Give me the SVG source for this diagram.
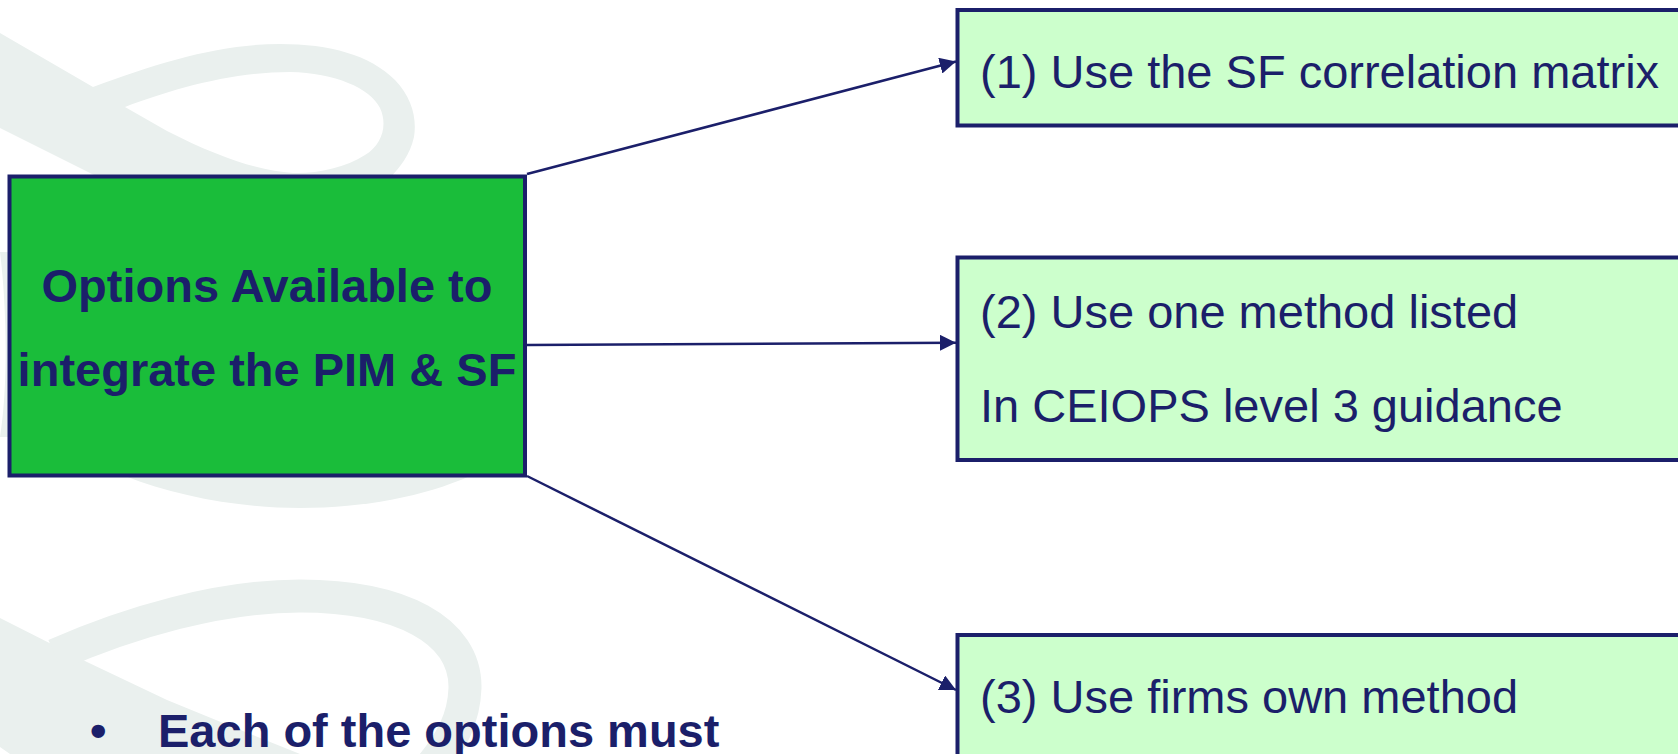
<svg xmlns="http://www.w3.org/2000/svg" width="1678" height="754" viewBox="0 0 1678 754">
<style>
.wm{fill:#eaf0ee;stroke:none}
.main{fill:#1abd3a;stroke:#1b1f6a;stroke-width:4}
.opt{fill:#ccffcc;stroke:#1b1f6a;stroke-width:4}
.bt{font-family:"Liberation Sans",Arial,sans-serif;font-weight:bold;font-size:47px;fill:#1b1f6a}
.rt{font-family:"Liberation Sans",Arial,sans-serif;font-size:47px;fill:#1b1f6a}
.conn{stroke:#1b1f6a;stroke-width:2.5;fill:none}
</style>
<defs>
<marker id="arr" viewBox="0 0 10 10" refX="10" refY="5" markerWidth="6.5" markerHeight="6.5" markerUnits="strokeWidth" orient="auto">
<path d="M0,0 L10,5 L0,10 Z" fill="#1b1f6a"/>
</marker>
</defs>
<rect width="1678" height="754" fill="#ffffff"/>
<g id="watermark">
<path class="wm" fill-rule="evenodd" d="M0,33 L93,87 C160,62 220,44 280,44 C330,44 370,55 395,80 C412,98 417,118 414,137 C410,155 400,167 390,178 L100,178 L0,128 Z M125,107 C170,90 230,72 290,72 C335,73 370,88 380,108 C388,125 382,145 365,155 C345,168 315,174 293,173 C260,171 220,158 167,131 Z"/>
<path class="wm" d="M125,470 L125,476 C175,496 240,508 300,508 C365,508 425,496 470,476 L470,470 Z"/>
<path class="wm" d="M0,252 C6,300 9,380 0,437 L20,437 L20,252 Z"/>
<path class="wm" d="M0,618 L87,662 L167,700 L233,727 L300,754 L10,754 L0,747 Z"/>
<path d="M55,655 C130,622 220,596 300,596 C400,596 466,630 465,688 C464,718 452,742 428,770" fill="none" stroke="#eaf0ee" stroke-width="33"/>
</g>
<g id="connectors">
<line class="conn" x1="527" y1="174" x2="956" y2="61.5" marker-end="url(#arr)"/>
<line class="conn" x1="527" y1="345" x2="956" y2="342.7" marker-end="url(#arr)"/>
<line class="conn" x1="527" y1="476" x2="956" y2="690" marker-end="url(#arr)"/>
</g>
<g id="node-main">
<rect class="main" x="9.5" y="176.5" width="515.5" height="299"/>
<text class="bt" x="267" y="302" text-anchor="middle">Options Available to</text>
<text class="bt" x="267" y="386" text-anchor="middle">integrate the PIM &amp; SF</text>
</g>
<g id="node-opt1">
<rect class="opt" x="957.5" y="10" width="760" height="115.5"/>
<text class="rt" x="980" y="88.3">(1) Use the SF correlation matrix</text>
</g>
<g id="node-opt2">
<rect class="opt" x="957.5" y="257.5" width="760" height="202.5"/>
<text class="rt" x="980" y="328">(2) Use one method listed</text>
<text class="rt" x="980" y="421.7">In CEIOPS level 3 guidance</text>
</g>
<g id="node-opt3">
<rect class="opt" x="957.5" y="635" width="760" height="160"/>
<text class="rt" x="980" y="713">(3) Use firms own method</text>
</g>
<g id="bullet">
<text class="bt" x="90" y="747.3">•</text>
<text class="bt" x="158" y="747.3">Each of the options must</text>
</g>
</svg>
